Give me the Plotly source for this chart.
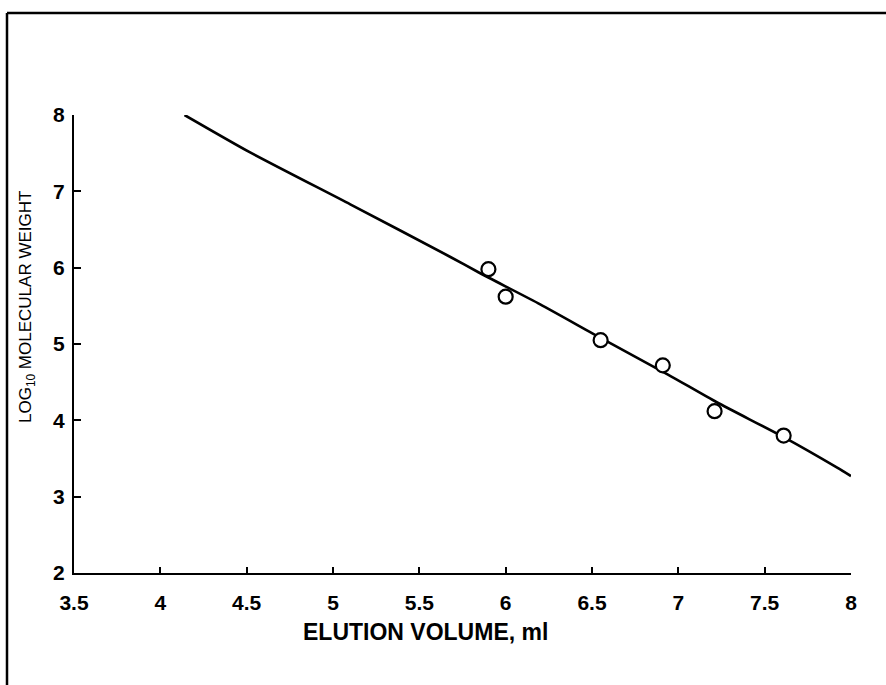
import plotly.graph_objects as go

# Calibration standards: elution volume (ml) vs log10 molecular weight
volume_ml = [5.90, 6.00, 6.55, 6.91, 7.21, 7.61]
log_mw = [5.98, 5.62, 5.05, 4.72, 4.12, 3.80]

# Smooth calibration curve drawn through the standards
curve_volume = [4.14, 4.52, 5.10, 5.68, 5.85, 6.20, 6.55, 6.94, 7.22, 7.61, 7.92, 8.00]
curve_log_mw = [8.00, 7.51, 6.83, 6.14, 5.93, 5.52, 5.08, 4.60, 4.24, 3.78, 3.38, 3.27]

x_ticks = [3.5, 4, 4.5, 5, 5.5, 6, 6.5, 7, 7.5, 8]
y_ticks = [2, 3, 4, 5, 6, 7, 8]

W, H = 886, 685
L, R, T, B = 74, 35, 115, 112
pw, ph = W - L - R, H - T - B

def px_x(p):
    return (p - L) / pw

def px_y(p):
    return (H - B - p) / ph

fig = go.Figure()
fig.add_trace(go.Scatter(
    x=curve_volume, y=curve_log_mw, mode="lines",
    line=dict(color="black", width=2.6, shape="spline", smoothing=0.6),
    hoverinfo="skip", showlegend=False,
))
fig.add_trace(go.Scatter(
    x=volume_ml, y=log_mw, mode="markers",
    marker=dict(symbol="circle", size=14, color="white",
                line=dict(color="black", width=2.2)),
    showlegend=False,
))

tick_font = dict(family="Liberation Sans, Arial, sans-serif", size=21,
                 color="black", weight="bold")
axis_common = dict(
    showline=True, linecolor="black", linewidth=2.2,
    ticks="inside", tickcolor="black", tickwidth=2,
    showgrid=False, zeroline=False, mirror=False,
    tickfont=tick_font,
)

fig.update_xaxes(range=[3.5, 8], tickvals=x_ticks,
                 ticktext=[f"{v:g}" for v in x_ticks], ticklen=6,
                 ticklabelstandoff=10, **axis_common)
fig.update_yaxes(range=[2, 8], tickvals=y_ticks,
                 ticktext=[str(v) for v in y_ticks], ticklen=7,
                 ticklabelstandoff=3, **axis_common)

fig.add_annotation(
    text="ELUTION VOLUME, ml", xref="paper", yref="paper",
    x=px_x(425), y=px_y(632), xanchor="center", yanchor="middle",
    showarrow=False,
    font=dict(family="Liberation Sans, Arial, sans-serif", size=23,
              color="black", weight="bold"),
)
fig.add_annotation(
    text="LOG<sub>10</sub> MOLECULAR WEIGHT", xref="paper", yref="paper",
    x=px_x(27), y=px_y(307), xanchor="center", yanchor="middle",
    textangle=-90, showarrow=False,
    font=dict(family="Liberation Sans, Arial, sans-serif", size=17,
              color="black"),
)

# Outer frame around the figure (top and left edges)
fig.add_shape(type="line", xref="paper", yref="paper",
              x0=px_x(7), x1=px_x(W + 5), y0=px_y(13), y1=px_y(13),
              line=dict(color="black", width=2.5))
fig.add_shape(type="line", xref="paper", yref="paper",
              x0=px_x(7), x1=px_x(7), y0=px_y(13), y1=px_y(H + 5),
              line=dict(color="black", width=2.5))

fig.update_layout(
    width=W, height=H,
    margin=dict(l=L, r=R, t=T, b=B),
    paper_bgcolor="white", plot_bgcolor="white",
    font=dict(family="Liberation Sans, Arial, sans-serif", color="black"),
)

fig.write_html("out.html")
